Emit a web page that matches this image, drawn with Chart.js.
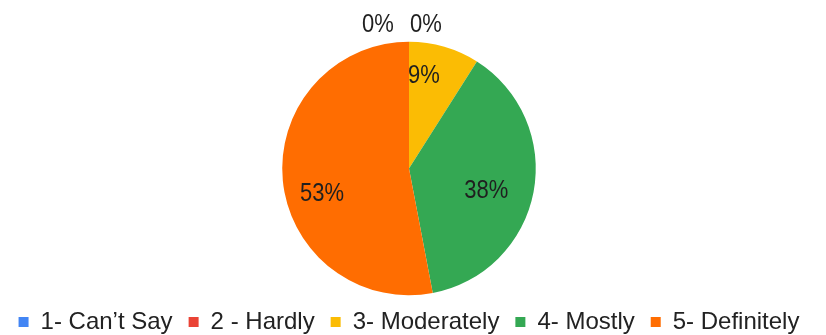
<!DOCTYPE html>
<html>
<head>
<meta charset="utf-8">
<script src="https://cdn.jsdelivr.net/npm/chart.js@4.4.0/dist/chart.umd.min.js"></script>
<style>
  html, body { margin: 0; padding: 0; background: #fff; }
  #wrap { width: 826px; height: 335px; }
</style>
</head>
<body>
<div id="wrap"><canvas id="chart" width="826" height="335"></canvas></div>
<script>
var categories = ["1- Can\u2019t Say", "2 - Hardly", "3- Moderately", "4- Mostly", "5- Definitely"];
var percents = [0, 0, 9, 38, 53];
var colors = ["#4285F4", "#EA4335", "#FBBC04", "#34A853", "#FF6D01"];

// label placement tweaks (radius factor, extra dx, dy) per slice
var labelRadius = [0, 0, 0.76, 0.66, 0.69];
var labelNudge = [[-31, 0], [17, 0], [-12, 0], [-5, 7], [0, 17]];

// draws the % labels; zero slices sit just above the top of the pie
var sliceLabels = {
  id: "sliceLabels",
  afterDatasetsDraw: function (c) {
    var ctx = c.ctx;
    var arcs = c.getDatasetMeta(0).data;
    ctx.save();
    ctx.font = "22px 'Liberation Sans', Arial, sans-serif";
    ctx.fillStyle = "#1f1f1f";
    ctx.textAlign = "center";
    ctx.textBaseline = "middle";
    arcs.forEach(function (arc, i) {
      var p = arc.getProps(["x", "y", "startAngle", "endAngle", "outerRadius"], true);
      var mid = (p.startAngle + p.endAngle) / 2;
      var r = percents[i] === 0 ? p.outerRadius + 17 : p.outerRadius * labelRadius[i];
      var tx = p.x + Math.cos(mid) * r + labelNudge[i][0];
      var ty = p.y + Math.sin(mid) * r + labelNudge[i][1];
      ctx.save();
      ctx.translate(tx, ty);
      ctx.scale(1, 1.2);
      ctx.fillText(percents[i] + "%", 0, 0);
      ctx.restore();
    });
    ctx.restore();
  }
};

var chart = new Chart(document.getElementById("chart"), {
  type: "pie",
  data: {
    labels: categories,
    datasets: [{
      data: percents,
      backgroundColor: colors,
      borderWidth: 0,
      radius: "101%"
    }]
  },
  options: {
    responsive: false,
    animation: false,
    layout: { padding: { top: 43, right: 8, bottom: 0, left: 0 } },
    plugins: {
      tooltip: { enabled: false },
      legend: {
        position: "bottom",
        maxHeight: 41,
        labels: {
          boxWidth: 10,
          boxHeight: 10,
          padding: 16,
          color: "#222",
          font: { family: "'Liberation Sans', Arial, sans-serif", size: 24 }
        }
      }
    }
  },
  plugins: [sliceLabels]
});
</script>
</body>
</html>
